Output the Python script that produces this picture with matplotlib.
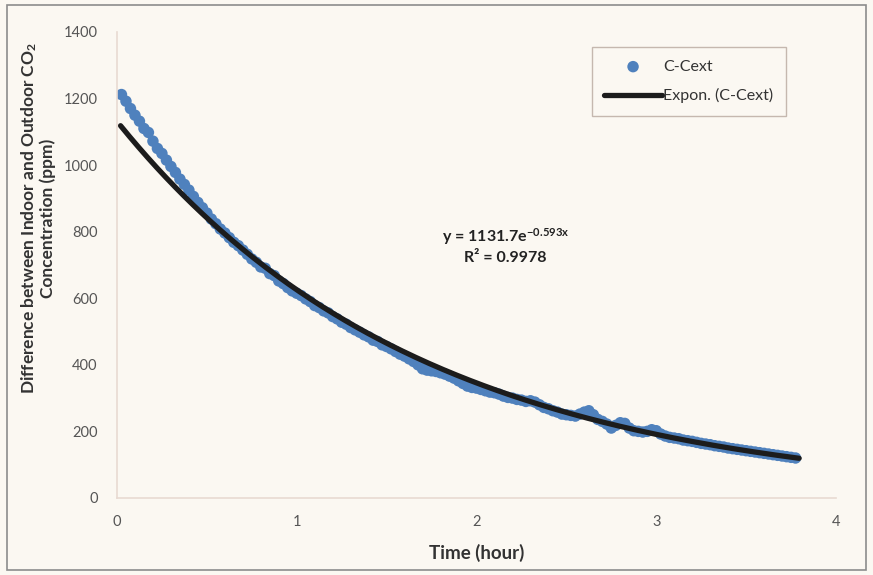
import numpy as np
import matplotlib
matplotlib.use("Agg")
import matplotlib.pyplot as plt
from matplotlib.patches import Rectangle

plt.rcParams['font.family'] = ['Lato', 'DejaVu Sans']
plt.rcParams['mathtext.fontset'] = 'custom'
plt.rcParams['mathtext.rm'] = 'Lato'
plt.rcParams['mathtext.bf'] = 'Lato:bold'
plt.rcParams['mathtext.it'] = 'Lato:italic'

# Measured decay of the indoor-outdoor CO2 difference
time_h = [0.025, 0.05, 0.075, 0.1, 0.125, 0.15, 0.175, 0.2, 0.225, 0.25,
          0.275, 0.3, 0.325, 0.35, 0.375, 0.4, 0.425, 0.45, 0.475, 0.5,
          0.525, 0.55, 0.575, 0.6, 0.625, 0.65, 0.675, 0.7, 0.725, 0.75,
          0.775, 0.8, 0.825, 0.85, 0.875, 0.9, 0.925, 0.95, 0.975, 1.0,
          1.025, 1.05, 1.075, 1.1, 1.125, 1.15, 1.175, 1.2, 1.225, 1.25,
          1.275, 1.3, 1.325, 1.35, 1.375, 1.4, 1.425, 1.45, 1.475, 1.5,
          1.525, 1.55, 1.575, 1.6, 1.625, 1.65, 1.675, 1.7, 1.725, 1.75,
          1.775, 1.8, 1.825, 1.85, 1.875, 1.9, 1.925, 1.95, 1.975, 2.0,
          2.025, 2.05, 2.075, 2.1, 2.125, 2.15, 2.175, 2.2, 2.225, 2.25,
          2.275, 2.3, 2.325, 2.35, 2.375, 2.4, 2.425, 2.45, 2.475, 2.5,
          2.525, 2.55, 2.575, 2.6, 2.625, 2.65, 2.675, 2.7, 2.725, 2.75,
          2.775, 2.8, 2.825, 2.85, 2.875, 2.9, 2.925, 2.95, 2.975, 3.0,
          3.025, 3.05, 3.075, 3.1, 3.125, 3.15, 3.175, 3.2, 3.225, 3.25,
          3.275, 3.3, 3.325, 3.35, 3.375, 3.4, 3.425, 3.45, 3.475, 3.5,
          3.525, 3.55, 3.575, 3.6, 3.625, 3.65, 3.675, 3.7, 3.725, 3.75,
          3.775]
c_minus_cext = [1212, 1192, 1170, 1150, 1132, 1110, 1098, 1072, 1050, 1035,
                1015, 996, 978, 958, 942, 925, 906, 888, 872, 856,
                838, 824, 808, 796, 782, 768, 758, 745, 732, 718,
                708, 694, 690, 674, 668, 652, 644, 632, 622, 615,
                608, 598, 590, 578, 572, 562, 556, 545, 538, 528,
                522, 512, 505, 498, 490, 484, 474, 470, 460, 455,
                448, 440, 432, 426, 418, 410, 400, 388, 384, 382,
                380, 376, 372, 366, 360, 352, 344, 336, 332, 330,
                326, 322, 318, 316, 312, 306, 302, 300, 296, 294,
                290, 292, 288, 280, 272, 268, 262, 258, 252, 250,
                248, 246, 252, 258, 262, 250, 236, 230, 222, 210,
                218, 226, 224, 210, 202, 200, 198, 200, 205, 202,
                192, 186, 182, 180, 178, 174, 172, 170, 167, 164,
                162, 160, 157, 155, 153, 150, 148, 146, 144, 142,
                140, 138, 136, 134, 132, 130, 128, 126, 124, 122,
                120]

# Exponential trendline y = a * exp(b * x)
fit_a = 1131.7
fit_b = -0.593
fit_r2 = 0.9978

x_ticks = [0, 1, 2, 3, 4]
y_ticks = [0, 200, 400, 600, 800, 1000, 1200, 1400]

bg = '#FBF8F2'
fig = plt.figure(figsize=(8.73, 5.75), dpi=100, facecolor=bg)
ax = fig.add_axes([0.134, 0.134, 0.8236, 0.8104], facecolor=bg)

ax.scatter(time_h, c_minus_cext, s=68, color='#4F81BD', edgecolors='none',
           zorder=2, label='C-Cext')

xf = np.linspace(time_h[0] - 0.005, time_h[-1] + 0.02, 300)
ax.plot(xf, fit_a * np.exp(fit_b * xf), color='#1c1c1c', lw=3.8,
        solid_capstyle='round', zorder=3, label='Expon. (C-Cext)')

ax.set_xlim(0, 4)
ax.set_ylim(0, 1400)
ax.set_xticks(x_ticks)
ax.set_yticks(y_ticks)
ax.tick_params(length=0, labelsize=10.5, labelcolor='#555555')
ax.tick_params(axis='x', pad=12)
ax.tick_params(axis='y', pad=14)

for side in ('top', 'right'):
    ax.spines[side].set_visible(False)
for side in ('left', 'bottom'):
    ax.spines[side].set_color('#E8DAD2')
    ax.spines[side].set_linewidth(1.2)

ax.set_xlabel('Time (hour)', fontsize=13.5, fontweight='bold',
              color='#333333', labelpad=11)
ax.set_ylabel('Difference between Indoor and Outdoor CO$_\\mathbf{2}$\nConcentration (ppm)',
              fontsize=12.5, fontweight='bold', color='#333333',
              linespacing=1.0)
ax.yaxis.set_label_coords(-0.085, 0.60)

ax.text(2.16, 784, f'y = {fit_a}e$^\\mathbf{{{fit_b}x}}$',
        ha='center', va='center', fontsize=11.5, fontweight='bold', color='#222222')
ax.text(2.16, 720, f'R² = {fit_r2}', ha='center', va='center',
        fontsize=11.5, fontweight='bold', color='#222222')

leg = ax.legend(loc='upper left', bbox_to_anchor=(0.66, 0.968), fontsize=11.5,
                frameon=True, fancybox=False, edgecolor='#B8A89E',
                facecolor=bg, borderpad=0.8, labelspacing=0.9,
                handlelength=3.6, handletextpad=0.1, borderaxespad=0,
                markerscale=1.0)
leg.get_frame().set_linewidth(1.0)
for t in leg.get_texts():
    t.set_color('#333333')

# outer chart frame
fig.patches.append(Rectangle((0.008, 0.008), 0.984, 0.984, transform=fig.transFigure,
                             fill=False, edgecolor='#8c8c8c', lw=1.2))

fig.savefig('out.png', dpi=100, facecolor=bg)
